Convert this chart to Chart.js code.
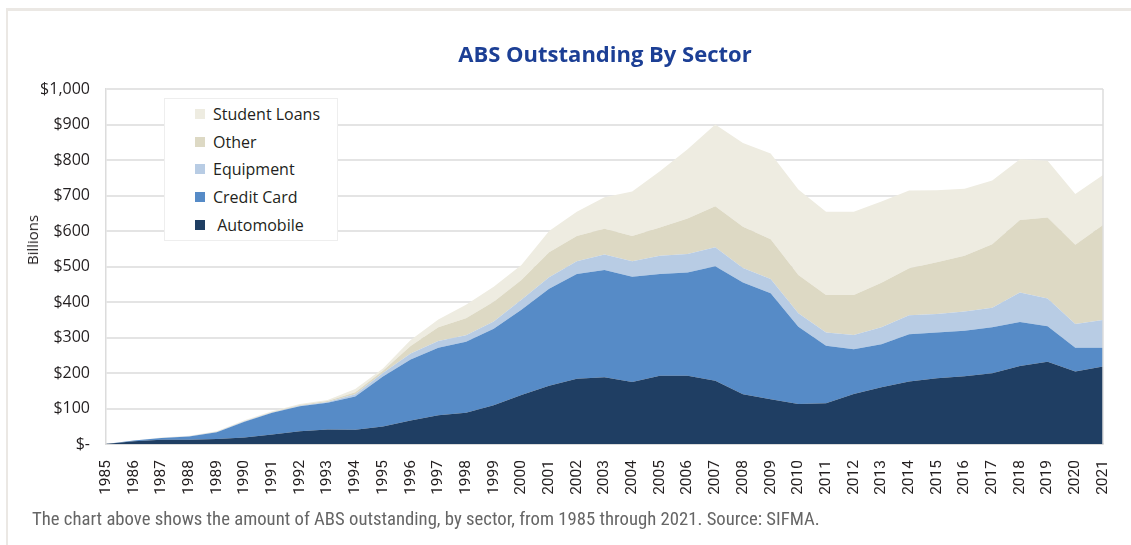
<!DOCTYPE html>
<html>
<head>
<meta charset="utf-8">
<script src="https://cdn.jsdelivr.net/npm/chart.js@4.4.1/dist/chart.umd.min.js"></script>
<style>
  body { margin: 0; background: #fff; overflow: hidden; width: 1131px; height: 545px; position: relative; }
  #frame { position: absolute; left: 6px; top: 8px; width: 1200px; height: 600px; border-left: 2px solid #ebe8e4; border-top: 3px solid #ebe8e4; }
  #chart { position: absolute; left: 0; top: 0; }
  #title { position: absolute; left: 405px; width: 400px; top: 38px; text-align: center; font: 700 22px "Open Sans", sans-serif; color: #1c3f95; }
  #ytitle { position: absolute; left: 32px; top: 240px; transform: translate(-50%, -50%) rotate(-90deg); font: 15px "Open Sans", sans-serif; color: #231f20; white-space: nowrap; }
  #legend { position: absolute; left: 164px; top: 98px; width: 174px; height: 143px; border: 1px solid #eeeeee; background: #fff; box-sizing: border-box; padding-top: 1px; }
  .item { height: 27.7px; display: flex; align-items: center; font: 16px "Open Sans", sans-serif; color: #231f20; white-space: pre; }
  .sw { width: 10px; height: 10px; margin-left: 30px; margin-right: 8px; }
  #caption { position: absolute; left: 32px; top: 508px; font: 18.7px "Liberation Sans Narrow", "Roboto Condensed", Roboto, sans-serif; color: #666; white-space: nowrap; }
</style>
</head>
<body>
<div id="frame"></div>
<canvas id="chart" width="1131" height="545"></canvas>
<div id="title">ABS Outstanding By Sector</div>
<div id="ytitle">Billions</div>
<div id="legend"></div>
<div id="caption">The chart above shows the amount of ABS outstanding, by sector, from 1985 through 2021. Source: SIFMA.</div>
<script>
var years = [];
for (var y = 1985; y <= 2021; y++) { years.push(String(y)); }

// billions
var automobile = [0, 8, 12, 12, 14, 18, 27, 36, 41, 40, 49, 66, 81, 88, 109, 138, 164, 184, 188, 175, 192, 192, 178, 140, 126, 113, 115, 141, 160, 176, 185, 191, 199, 220, 232, 204, 218];
var creditCard = [0, 2, 5, 9, 19, 45, 61, 70, 75, 94, 141, 172, 190, 200, 216, 240, 273, 295, 302, 296, 287, 291, 323, 315, 299, 217, 162, 126, 121, 133, 129, 128, 130, 124, 100, 67, 53];
var equipment = [0, 0, 0, 1, 1, 1, 1, 2, 2, 6, 10, 17, 19, 18, 20, 28, 33, 36, 44, 44, 51, 52, 53, 41, 40, 38, 37, 40, 48, 54, 52, 54, 55, 83, 78, 67, 78];
var other = [0, 0, 0, 0, 1, 1, 1, 2, 3, 6, 6, 21, 39, 48, 56, 56, 70, 71, 72, 71, 80, 100, 116, 116, 112, 108, 106, 113, 125, 132, 146, 157, 179, 204, 228, 223, 268];
var studentLoans = [0, 0, 1, 1, 1, 2, 2, 3, 3, 9, 7, 17, 22, 38, 42, 42, 60, 68, 89, 125, 158, 195, 230, 236, 241, 241, 234, 234, 229, 219, 203, 189, 179, 171, 160, 143, 141];

var yTicks = [0, 100, 200, 300, 400, 500, 600, 700, 800, 900, 1000];

function area(label, values, color, fill) {
  return {
    label: label,
    data: values,
    backgroundColor: color,
    borderColor: color,
    borderWidth: 0,
    pointRadius: 0,
    fill: fill,
    tension: 0
  };
}

// right-hand edge of the plot box
var plotBox = {
  id: 'plotBox',
  afterDraw: function(chart) {
    var a = chart.chartArea, ctx = chart.ctx;
    ctx.save();
    ctx.strokeStyle = '#dcdcdc';
    ctx.lineWidth = 1.5;
    ctx.beginPath();
    ctx.moveTo(a.right, a.top);
    ctx.lineTo(a.right, a.bottom);
    ctx.stroke();
    ctx.restore();
  }
};

var ctx = document.getElementById('chart').getContext('2d');
var chart = new Chart(ctx, {
  type: 'line',
  data: {
    labels: years,
    datasets: [
      area(' Automobile', automobile, '#1f3e63', 'origin'),
      area('Credit Card', creditCard, '#568bc7', '-1'),
      area('Equipment', equipment, '#b8cce4', '-1'),
      area('Other', other, '#ddd9c4', '-1'),
      area('Student Loans', studentLoans, '#eeece1', '-1')
    ]
  },
  options: {
    responsive: false,
    animation: false,
    devicePixelRatio: 1,
    layout: { padding: { left: 10, right: 28, top: 89, bottom: 41 } },
    plugins: {
      legend: { display: false },
      tooltip: { enabled: false }
    },
    scales: {
      x: {
        grid: { display: false },
        border: { display: true, color: '#d0d0d0', width: 1.5 },
        ticks: {
          autoSkip: false, maxRotation: 90, minRotation: 90, padding: 8,
          color: '#231f20', font: { family: 'Roboto', size: 15.5 }
        },
        afterFit: function(s) { s.height = 60; }
      },
      y: {
        stacked: true,
        min: 0, max: 1000,
        afterBuildTicks: function(s) { s.ticks = yTicks.map(function(v) { return { value: v }; }); },
        grid: { color: '#e4e4e4', lineWidth: 2, drawTicks: false },
        border: { display: true, color: '#dcdcdc', width: 1.5 },
        ticks: {
          padding: 16, color: '#231f20', font: { family: 'Open Sans', size: 16 },
          callback: function(v) { return v === 0 ? '$-' : '$' + v.toLocaleString('en-US'); }
        },
        afterFit: function(s) { s.width = 96; }
      }
    }
  },
  plugins: [plotBox]
});

// legend in the box, top item first
var legendEl = document.getElementById('legend');
var items = chart.data.datasets.slice().reverse();
items.forEach(function(ds) {
  var row = document.createElement('div');
  row.className = 'item';
  var sw = document.createElement('span');
  sw.className = 'sw';
  sw.style.background = ds.backgroundColor;
  var tx = document.createElement('span');
  tx.textContent = ds.label;
  row.appendChild(sw);
  row.appendChild(tx);
  legendEl.appendChild(row);
});
</script>
</body>
</html>
